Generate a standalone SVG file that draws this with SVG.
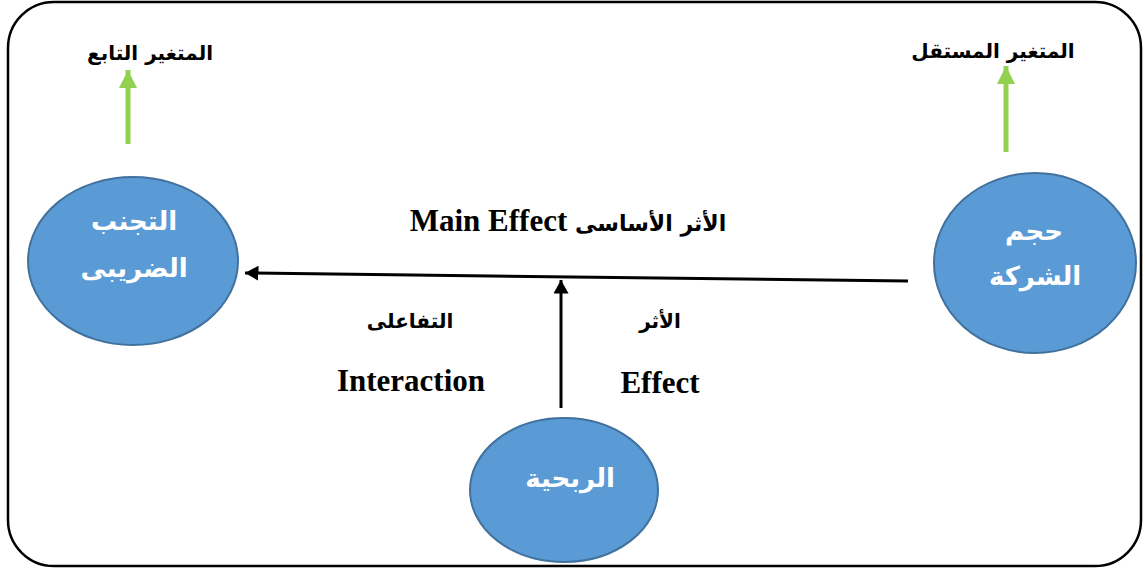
<svg xmlns="http://www.w3.org/2000/svg" width="1145" height="569" viewBox="0 0 1145 569">
<style>
.node{fill:#5B9BD5;stroke:#41719C;stroke-width:2}
.nt{fill:#fff;font-family:"DejaVu Sans",sans-serif;font-weight:bold;font-size:26px;text-anchor:middle}
.lbl{fill:#000;font-family:"Liberation Serif","DejaVu Sans",serif;font-weight:bold;font-size:31px;text-anchor:middle}
.ar{fill:#000;font-family:"DejaVu Sans",sans-serif;font-weight:bold;font-size:20px;text-anchor:middle}
.blk{stroke:#000;stroke-width:3;fill:none}
.grn{stroke:#92D050;stroke-width:5;fill:none}
</style>
<defs>
<marker id="ah" markerWidth="5" markerHeight="5" refX="4.5" refY="2.5" orient="auto" markerUnits="strokeWidth"><path d="M0,0 L4.5,2.5 L0,5 z" fill="#000"/></marker>
<marker id="gh" markerWidth="4" markerHeight="4" refX="3.6" refY="1.8" orient="auto" markerUnits="strokeWidth"><path d="M0,0 L3.6,1.8 L0,3.6 z" fill="#92D050"/></marker>
</defs>
<rect x="8" y="2" width="1133" height="564" rx="46" ry="46" fill="#fff" stroke="#000" stroke-width="2.5"/>
<g id="connectors">
<line class="blk" x1="908" y1="281" x2="245" y2="273" marker-end="url(#ah)"/>
<line class="blk" x1="561" y1="408" x2="561" y2="280" marker-end="url(#ah)"/>
<line class="grn" x1="128" y1="144" x2="128" y2="70" marker-end="url(#gh)"/>
<line class="grn" x1="1006" y1="152" x2="1006" y2="66" marker-end="url(#gh)"/>
</g>
<g id="node-avoid">
<ellipse class="node" cx="133" cy="261" rx="105" ry="84"/>
<text class="nt" x="134" y="230">التجنب</text>
<text class="nt" x="134" y="277">الضريبى</text>
</g>
<g id="node-size">
<ellipse class="node" cx="1035" cy="263" rx="101" ry="90"/>
<text class="nt" x="1034" y="240">حجم</text>
<text class="nt" x="1035" y="285">الشركة</text>
</g>
<g id="node-profit">
<ellipse class="node" cx="564" cy="490" rx="94" ry="72"/>
<text class="nt" x="570" y="487">الربحية</text>
</g>
<g id="labels">
<text class="ar" x="150" y="60">المتغير التابع</text>
<text class="ar" x="993" y="58">المتغير المستقل</text>
<text class="lbl" x="568" y="231" direction="ltr">Main Effect <tspan font-family="DejaVu Sans" font-size="22">الأثر الأساسى</tspan></text>
<text class="ar" x="410" y="328">التفاعلى</text>
<text class="lbl" x="411" y="391">Interaction</text>
<text class="ar" x="660" y="328" font-size="21">الأثر</text>
<text class="lbl" x="660" y="393">Effect</text>
</g>
</svg>
